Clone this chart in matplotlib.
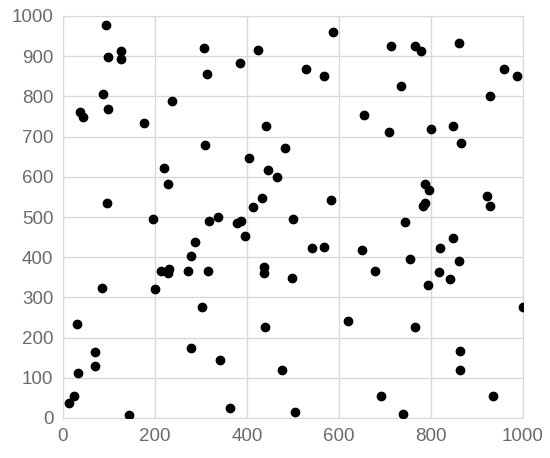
import numpy as np
import matplotlib.pyplot as plt

# scatter data
x_vals = [93, 126, 98, 126, 306, 423, 385, 313, 88, 236, 36, 44, 98, 175, 441,
          309, 405, 220, 446, 466, 229, 96, 433, 414, 195, 337, 318, 379, 388,
          588, 712, 765, 778, 860, 529, 567, 958, 988, 734, 929, 654, 709, 799,
          847, 865, 482, 788, 796, 583, 786, 783, 922, 929, 500, 744,
          395, 288, 278, 213, 231, 229, 272, 316, 437, 437, 85, 200, 302, 30,
          439, 278, 70, 69, 341, 33, 475, 24, 12, 144, 364,
          847, 541, 567, 650, 819, 755, 860, 498, 678, 817, 842, 794, 999,
          619, 765, 862, 862, 691, 935, 504, 739]
y_vals = [978, 913, 898, 892, 921, 915, 884, 855, 806, 789, 760, 748, 769, 734, 726,
          679, 648, 622, 617, 600, 582, 536, 547, 524, 496, 501, 489, 484, 489,
          961, 925, 925, 912, 933, 869, 851, 869, 851, 826, 800, 754, 711, 720,
          726, 685, 671, 582, 567, 542, 534, 527, 553, 527, 495, 487,
          453, 438, 404, 366, 371, 360, 366, 366, 376, 360, 323, 320, 277, 233,
          226, 173, 164, 130, 145, 113, 119, 55, 38, 7, 24,
          447, 424, 426, 418, 424, 395, 391, 348, 366, 362, 346, 332, 277,
          242, 226, 167, 119, 55, 55, 15, 9]

x_ticks = [0, 200, 400, 600, 800, 1000]
y_ticks = [0, 100, 200, 300, 400, 500, 600, 700, 800, 900, 1000]

plt.rcParams['font.family'] = ['Liberation Sans', 'DejaVu Sans']

fig = plt.figure(figsize=(5.5, 4.58), dpi=100)
ax = fig.add_axes([63 / 550, 40 / 458, 460 / 550, 402 / 458])

ax.plot(x_vals, y_vals, 'o', color='black', markersize=6, zorder=3)

ax.set_xlim(0, 1000)
ax.set_ylim(0, 1000)
ax.set_xticks(x_ticks)
ax.set_yticks(y_ticks)
ax.grid(True, color='#d9d9d9', linewidth=1)
ax.set_axisbelow(True)
for s in ax.spines.values():
    s.set_color('#d9d9d9')
ax.tick_params(length=0, labelsize=13.5, colors='#6b6b6b', pad=7)

fig.savefig('out.png', dpi=100)
